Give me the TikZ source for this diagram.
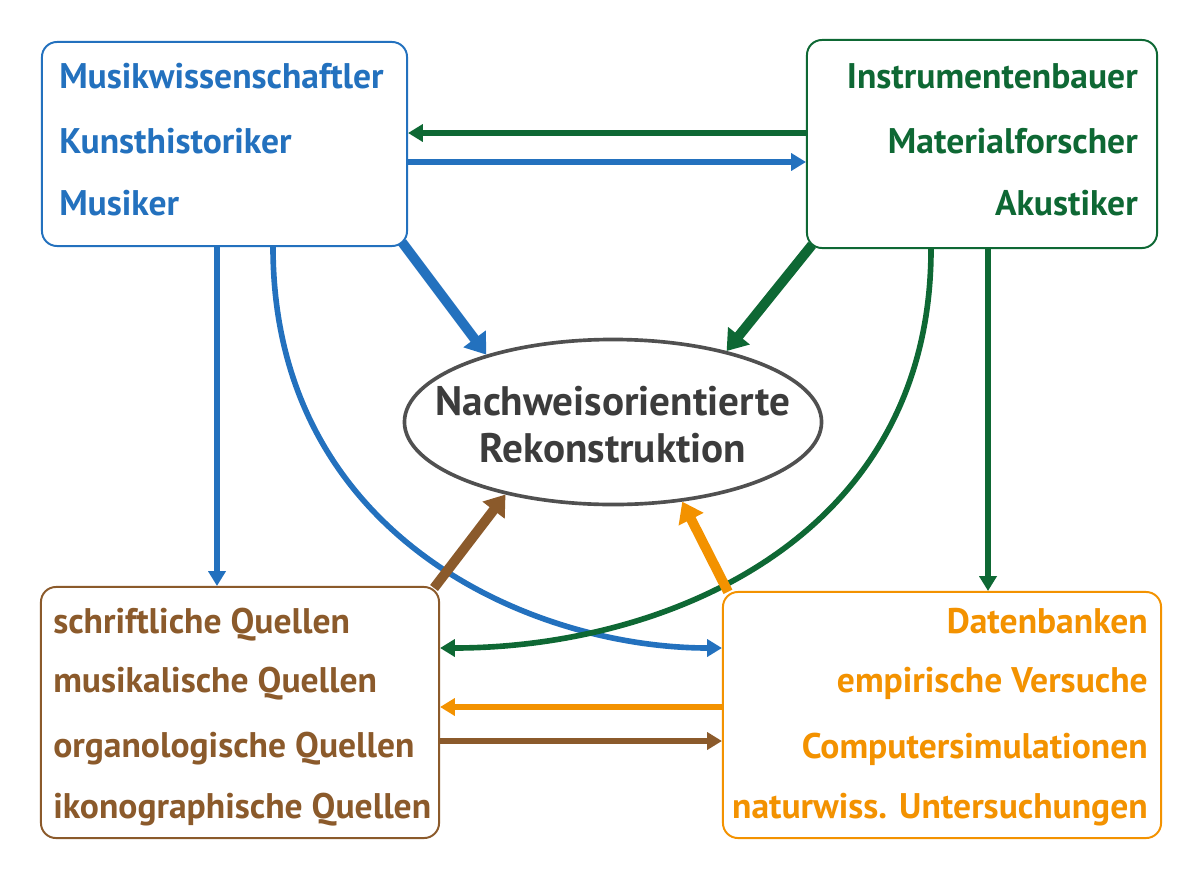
\documentclass[tikz,border=0pt]{standalone}
\usepackage{fontspec}
\setmainfont{PT Sans}
\usetikzlibrary{arrows.meta,shapes.geometric}
\definecolor{mublue}{RGB}{35,113,190}
\definecolor{mugreen}{RGB}{14,104,52}
\definecolor{mubrown}{RGB}{139,90,43}
\definecolor{muorange}{RGB}{243,146,0}
\definecolor{mugray}{RGB}{80,80,80}
\definecolor{mutext}{RGB}{60,60,60}
\begin{document}
\begin{tikzpicture}[x=0.025cm,y=-0.025cm,
		group/.style={draw=#1,line width=1.4pt,rounded corners=0.375cm,fill=white,inner sep=0pt},
		word/.style={text=#1,font=\fontsize{25.3}{30}\selectfont\bfseries,inner sep=0pt},
		flow/.style={draw=#1,line width=4pt,-{Triangle[length=10.5pt,width=12pt]}},
		bigflow/.style={draw=#1,fill=#1,line width=7pt,-{Triangle[length=14pt,width=19pt]}}]
			
			\useasboundingbox (0,0) rectangle (1200,874);
			
			\node [group=mublue,minimum width=9.125cm,minimum height=5.1cm] (musik) at (224.5,144) {};
			\node [group=mugreen,minimum width=8.75cm,minimum height=5.2cm] (bau) at (982,144) {};
			\node [group=mubrown,minimum width=9.95cm,minimum height=6.275cm] (quellen) at (240,712.5) {};
			\node [group=muorange,minimum width=10.95cm,minimum height=6.15cm] (labor) at (942,715) {};
			\node [ellipse,draw=mugray,line width=2.6pt,fill=white,minimum width=10.425cm,minimum height=4.125cm,
				inner sep=0pt] (rekon) at (613,422) {};
			\node [text=mutext,font=\fontsize{29.3}{33}\selectfont\bfseries,inner sep=0pt,anchor=base] (r1) at (613,415) {Nachweisorientierte};
			\node [text=mutext,font=\fontsize{29.3}{33}\selectfont\bfseries,inner sep=0pt,anchor=base] (r2) at (613,462) {Rekonstruktion};
			
			\node [word=mublue,anchor=base west] (m1) at (59,88) {Musikwissenschaftler};
			\node [word=mublue,anchor=base west] (m2) at (59,153) {Kunsthistoriker};
			\node [word=mublue,anchor=base west] (m3) at (59,215) {Musiker};
			
			\node [word=mugreen,anchor=base east] (b1) at (1138,88) {Instrumentenbauer};
			\node [word=mugreen,anchor=base east] (b2) at (1138,153) {Materialforscher};
			\node [word=mugreen,anchor=base east] (b3) at (1138,215) {Akustiker};
			
			\node [word=mubrown,anchor=base west] (q1) at (53,633) {schriftliche Quellen};
			\node [word=mubrown,anchor=base west] (q2) at (53,692) {musikalische Quellen};
			\node [word=mubrown,anchor=base west] (q3) at (53,757) {organologische Quellen};
			\node [word=mubrown,anchor=base west] (q4) at (53,818) {ikonographische Quellen};
			
			\node [word=muorange,anchor=base east] (l1) at (1148,633) {Datenbanken};
			\node [word=muorange,anchor=base east] (l2) at (1148,692) {empirische Versuche};
			\node [word=muorange,anchor=base east] (l3) at (1148,758) {Computersimulationen};
			\node [word=muorange,anchor=base east] (l4) at (1148,818) {naturwiss. Untersuchungen};
			
			% rows and columns of the connectors
			\coordinate (rowA) at (0,133);
			\coordinate (rowB) at (0,162);
			\coordinate (rowC) at (0,648);
			\coordinate (rowD) at (0,707);
			\coordinate (rowE) at (0,741);
			\coordinate (colA) at (217,0);
			\coordinate (colB) at (273,0);
			\coordinate (colC) at (931,0);
			\coordinate (colD) at (988,0);
			
			\draw [flow=mugreen] (bau.west |- rowA) -- (musik.east |- rowA);
			\draw [flow=mublue] (musik.east |- rowB) -- (bau.west |- rowB);
			\draw [flow=mublue] (musik.south -| colA) -- (quellen.north -| colA);
			\draw [flow=mugreen] (bau.south -| colD) -- (labor.north -| colD);
			\draw [flow=mublue] (musik.south -| colB) .. controls +(0,290) and +(-190,0) .. (labor.west |- rowC);
			\draw [flow=mugreen] (bau.south -| colC) .. controls +(0,290) and +(225,0) .. (quellen.east |- rowC);
			\draw [flow=muorange] (labor.west |- rowD) -- (quellen.east |- rowD);
			\draw [flow=mubrown] (quellen.east |- rowE) -- (labor.west |- rowE);
			
			\draw [bigflow=mublue] ([xshift=-0.15cm,yshift=0.12cm]musik.south east) -- (rekon.152);
			\draw [bigflow=mugreen] ([xshift=0.15cm,yshift=0.1cm]bau.south west) -- (rekon.32);
			\draw [bigflow=mubrown] ([xshift=-0.15cm,yshift=-0.05cm]quellen.north east) -- (rekon.214);
			\draw [bigflow=muorange] ([xshift=0.15cm,yshift=-0.02cm]labor.north west) -- (rekon.311);
		\end{tikzpicture}
\end{document}
